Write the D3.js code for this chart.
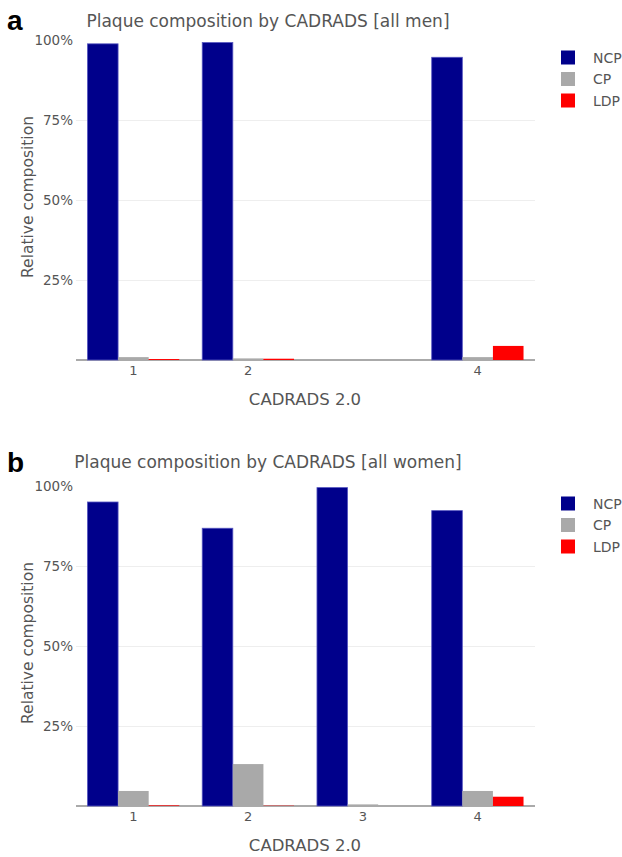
<!DOCTYPE html>
<html>
<head>
<meta charset="utf-8">
<script src="https://cdn.jsdelivr.net/npm/d3@7"></script>
<style>
  html, body { margin: 0; padding: 0; background: #fff; }
  svg { display: block; }
</style>
</head>
<body>
<svg id="chart" width="622" height="857"></svg>
<script>
// ---------- DATA ----------
const categories = [1, 2, 3, 4];
const seriesNames = ["NCP", "CP", "LDP"];
const yTicks = [25, 50, 75, 100];

// Panel a: all men (no CADRADS 3 group)
const menTickLabels = ["1", "2", "", "4"];
const menNCP = [98.8, 99.2, null, 94.6];
const menCP = [0.9, 0.5, null, 0.9];
const menLDP = [0.3, 0.4, null, 4.4];

// Panel b: all women
const womenTickLabels = ["1", "2", "3", "4"];
const womenNCP = [95.0, 86.8, 99.5, 92.3];
const womenCP = [4.7, 13.1, 0.5, 4.7];
const womenLDP = [0.2, 0.1, 0.0, 2.9];

// ---------- STYLE ----------
const colors = { NCP: "#00008b", CP: "#a9a9a9", LDP: "#ff0000" };
const FONT = "'DejaVu Sans', Verdana, sans-serif";
const TXT = "#555";

const svg = d3.select("#chart");

function panel(opts) {
  const { letter, title, top, bottom, tickLabels, values, letterY, titleY } = opts;
  const left = 76, right = 535;
  const g = svg.append("g");

  const x = d3.scaleBand().domain(categories).range([left, right])
    .paddingInner(0.2).paddingOuter(0.1);
  const xs = d3.scaleBand().domain(seriesNames).range([0, x.bandwidth()]);
  const y = d3.scaleLinear().domain([0, 100]).range([bottom, top]);

  // y axis with gridlines
  const yAxis = g.append("g")
    .attr("transform", `translate(${left},0)`)
    .call(d3.axisLeft(y).tickValues(yTicks).tickFormat(d => d + "%")
      .tickSize(-(right - left)).tickPadding(3));
  yAxis.select(".domain").remove();
  yAxis.selectAll(".tick line").attr("stroke", "#eeeeee").attr("stroke-width", 1)
    .filter(d => d === 100).remove();
  yAxis.selectAll(".tick text").attr("fill", TXT).attr("font-size", 13.5)
    .attr("font-family", FONT);

  // baseline (zero line)
  g.append("line")
    .attr("x1", left).attr("x2", right)
    .attr("y1", y(0)).attr("y2", y(0))
    .attr("stroke", "#aaaaaa").attr("stroke-width", 2);

  // bars
  const rows = [];
  categories.forEach((c, i) => {
    seriesNames.forEach(s => {
      const v = values[s][i];
      if (v !== null && v !== undefined) rows.push({ c, s, v });
    });
  });
  g.append("g").selectAll("rect").data(rows).join("rect")
    .attr("x", d => x(d.c) + xs(d.s))
    .attr("width", xs.bandwidth())
    .attr("y", d => y(d.v))
    .attr("height", d => y(0) - y(d.v))
    .attr("fill", d => colors[d.s])
    .attr("stroke", d => d.s === "NCP" ? "#5555c0" : "none")
    .attr("stroke-width", 0.8);

  // x axis
  const xAxis = g.append("g")
    .attr("transform", `translate(0,${bottom})`)
    .call(d3.axisBottom(x).tickSize(0).tickPadding(6)
      .tickFormat((d, i) => tickLabels[i]));
  xAxis.select(".domain").remove();
  xAxis.selectAll(".tick text").attr("fill", TXT).attr("font-size", 13)
    .attr("font-family", FONT);

  // axis titles
  g.append("text")
    .attr("x", 305).attr("y", bottom + 45)
    .attr("text-anchor", "middle")
    .attr("font-family", FONT).attr("font-size", 16.5).attr("fill", TXT)
    .text("CADRADS 2.0");
  g.append("text")
    .attr("transform", `translate(33,${(top + bottom) / 2 - 3}) rotate(-90)`)
    .attr("text-anchor", "middle")
    .attr("font-family", FONT).attr("font-size", 15.5).attr("fill", TXT)
    .text("Relative composition");

  // chart title
  g.append("text")
    .attr("x", 268).attr("y", titleY)
    .attr("text-anchor", "middle")
    .attr("font-family", FONT).attr("font-size", 17).attr("fill", TXT)
    .text(title);

  // panel letter
  g.append("text")
    .attr("x", 7).attr("y", letterY)
    .attr("font-family", "'Liberation Sans', Arial, sans-serif")
    .attr("font-weight", "bold").attr("font-size", 28).attr("fill", "#000")
    .text(letter);

  // legend
  const leg = g.append("g");
  seriesNames.forEach((s, i) => {
    const cy = top + 17.5 + i * 21.5;
    leg.append("rect")
      .attr("x", 561).attr("y", cy - 7).attr("width", 14).attr("height", 14)
      .attr("fill", colors[s]);
    leg.append("text")
      .attr("x", 593).attr("y", cy + 5)
      .attr("font-family", FONT).attr("font-size", 14).attr("fill", TXT)
      .text(s);
  });
}

panel({
  letter: "a",
  title: "Plaque composition by CADRADS [all men]",
  top: 40, bottom: 360,
  letterY: 30, titleY: 27,
  tickLabels: menTickLabels,
  values: { NCP: menNCP, CP: menCP, LDP: menLDP }
});

panel({
  letter: "b",
  title: "Plaque composition by CADRADS [all women]",
  top: 486, bottom: 806,
  letterY: 472, titleY: 468,
  tickLabels: womenTickLabels,
  values: { NCP: womenNCP, CP: womenCP, LDP: womenLDP }
});
</script>
</body>
</html>
